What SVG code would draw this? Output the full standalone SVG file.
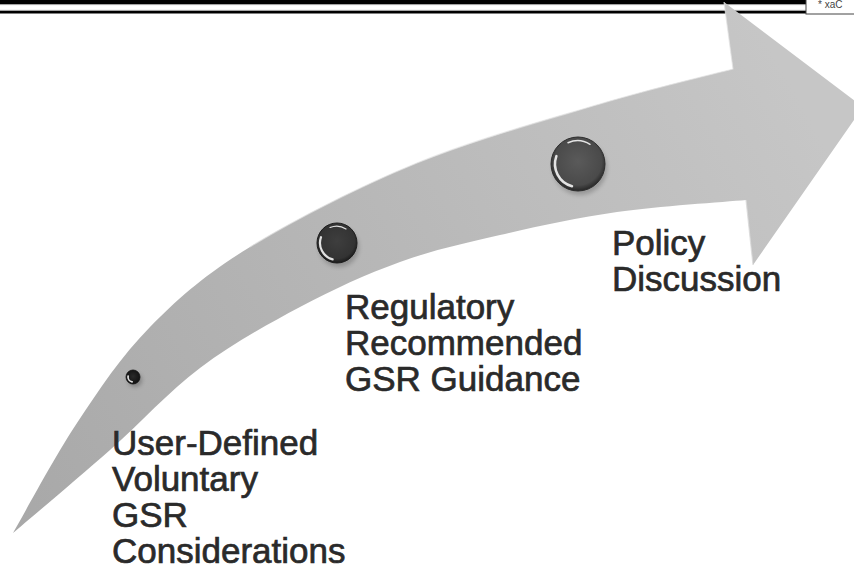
<svg xmlns="http://www.w3.org/2000/svg" width="854" height="574" viewBox="0 0 854 574">
<style>
.lbl{font-family:"Liberation Sans",Arial,sans-serif;font-size:35px;fill:#2a2a2a;stroke:#2a2a2a;stroke-width:0.7px}
.hl{fill:none;stroke:#ffffff;stroke-linecap:round;opacity:0.85}
</style>
<defs>
<linearGradient id="arrowGrad" gradientUnits="userSpaceOnUse" x1="13" y1="533" x2="800" y2="100">
<stop offset="0" stop-color="#a8a8a8"/>
<stop offset="1" stop-color="#c6c6c6"/>
</linearGradient>
<radialGradient id="ballGrad" cx="0.5" cy="0.45" r="0.55">
<stop offset="0" stop-color="#5a5a5a"/>
<stop offset="0.8" stop-color="#4a4a4a"/>
<stop offset="1" stop-color="#262626"/>
</radialGradient>
<radialGradient id="ballDark" cx="0.5" cy="0.45" r="0.55">
<stop offset="0" stop-color="#3e3e3e"/>
<stop offset="0.8" stop-color="#333333"/>
<stop offset="1" stop-color="#1a1a1a"/>
</radialGradient>
<radialGradient id="ballBlack" cx="0.5" cy="0.45" r="0.55">
<stop offset="0" stop-color="#2a2a2a"/>
<stop offset="1" stop-color="#111111"/>
</radialGradient>
<filter id="shadow" x="-30%" y="-30%" width="160%" height="160%">
<feGaussianBlur stdDeviation="2"/>
</filter>
</defs>
<rect width="854" height="574" fill="#ffffff"/>
<g id="header">
<rect x="0" y="0" width="806" height="4" fill="#000000"/>
<line x1="0" y1="4.6" x2="806" y2="4.6" stroke="#9a9a9a" stroke-width="1"/>
<line x1="0" y1="10.4" x2="806" y2="10.4" stroke="#9a9a9a" stroke-width="1"/>
<rect x="0" y="11" width="806" height="2.5" fill="#000000"/>
<rect x="806" y="-2" width="50" height="16" fill="#ffffff" stroke="#444444" stroke-width="1"/>
<text x="818" y="8" font-family="Liberation Sans,Arial,sans-serif" font-size="10" fill="#444444">* xaC</text>
</g>
<g id="arrow">
<path fill="url(#arrowGrad)" d="M13,533 C23.7,514.7 54.2,457.3 77,423 C99.8,388.7 121.2,356.3 150,327 C178.8,297.7 205.5,274.3 250,247 C294.5,219.7 358.7,186.8 417,163 C475.3,139.2 547.3,119.7 600,104 C652.7,88.3 710.8,74.8 733,69 L724,2 L863,107 L753,265 L746,200 C724.5,202 658,206.2 617,212 C576,217.8 536.2,226.7 500,235 C463.8,243.3 433.3,250 400,262 C366.7,274 333.3,289.3 300,307 C266.7,324.7 231.7,344.2 200,368 C168.3,391.8 141.2,422.5 110,450 C78.8,477.5 29.2,519.2 13,533 Z"/>
<path fill="none" stroke="#e2e2e2" stroke-width="1.2" opacity="0.7" d="M250,247 C294.5,219.7 358.7,186.8 417,163 C475.3,139.2 547.3,119.7 600,104 C652.7,88.3 710.8,74.8 733,69 L724,2"/>
<path fill="none" stroke="#dadada" stroke-width="1.2" opacity="0.8" d="M746,200 L753,265"/>
</g>
<g id="node1">
<circle cx="135" cy="380" r="7" fill="#000" opacity="0.25" filter="url(#shadow)"/>
<circle cx="133" cy="377" r="7" fill="url(#ballBlack)" stroke="#111" stroke-width="0.8"/>
<path class="hl" stroke-width="1.8" d="M132.1,381.9 A5,5 0 0 1 128.1,376.1"/>
<text class="lbl" x="112" y="455">User-Defined</text>
<text class="lbl" x="112" y="491">Voluntary</text>
<text class="lbl" x="112" y="527">GSR</text>
<text class="lbl" x="112" y="563">Considerations</text>
</g>
<g id="node2">
<circle cx="339" cy="247" r="20" fill="#000" opacity="0.2" filter="url(#shadow)"/>
<circle cx="337" cy="243" r="20" fill="url(#ballDark)" stroke="#1e1e1e" stroke-width="1"/>
<path class="hl" stroke-width="2.2" d="M332.6,259.4 A17,17 0 0 1 321,237.2"/>
<path class="hl" stroke-width="1.2" opacity="0.4" d="M330,227.5 A17,17 0 0 1 346,229"/>
<text class="lbl" x="345" y="319">Regulatory</text>
<text class="lbl" x="345" y="355">Recommended</text>
<text class="lbl" x="345" y="391">GSR Guidance</text>
</g>
<g id="node3">
<circle cx="580" cy="168" r="27" fill="#000" opacity="0.2" filter="url(#shadow)"/>
<circle cx="578" cy="164" r="27" fill="url(#ballGrad)" stroke="#2e2e2e" stroke-width="1"/>
<path class="hl" stroke-width="2.5" d="M572,186.2 A23,23 0 0 1 556.4,156.1"/>
<path class="hl" stroke-width="1.5" opacity="0.45" d="M568,142.7 A23,23 0 0 1 590,144.3"/>
<text class="lbl" x="612" y="255">Policy</text>
<text class="lbl" x="612" y="291">Discussion</text>
</g>
</svg>
